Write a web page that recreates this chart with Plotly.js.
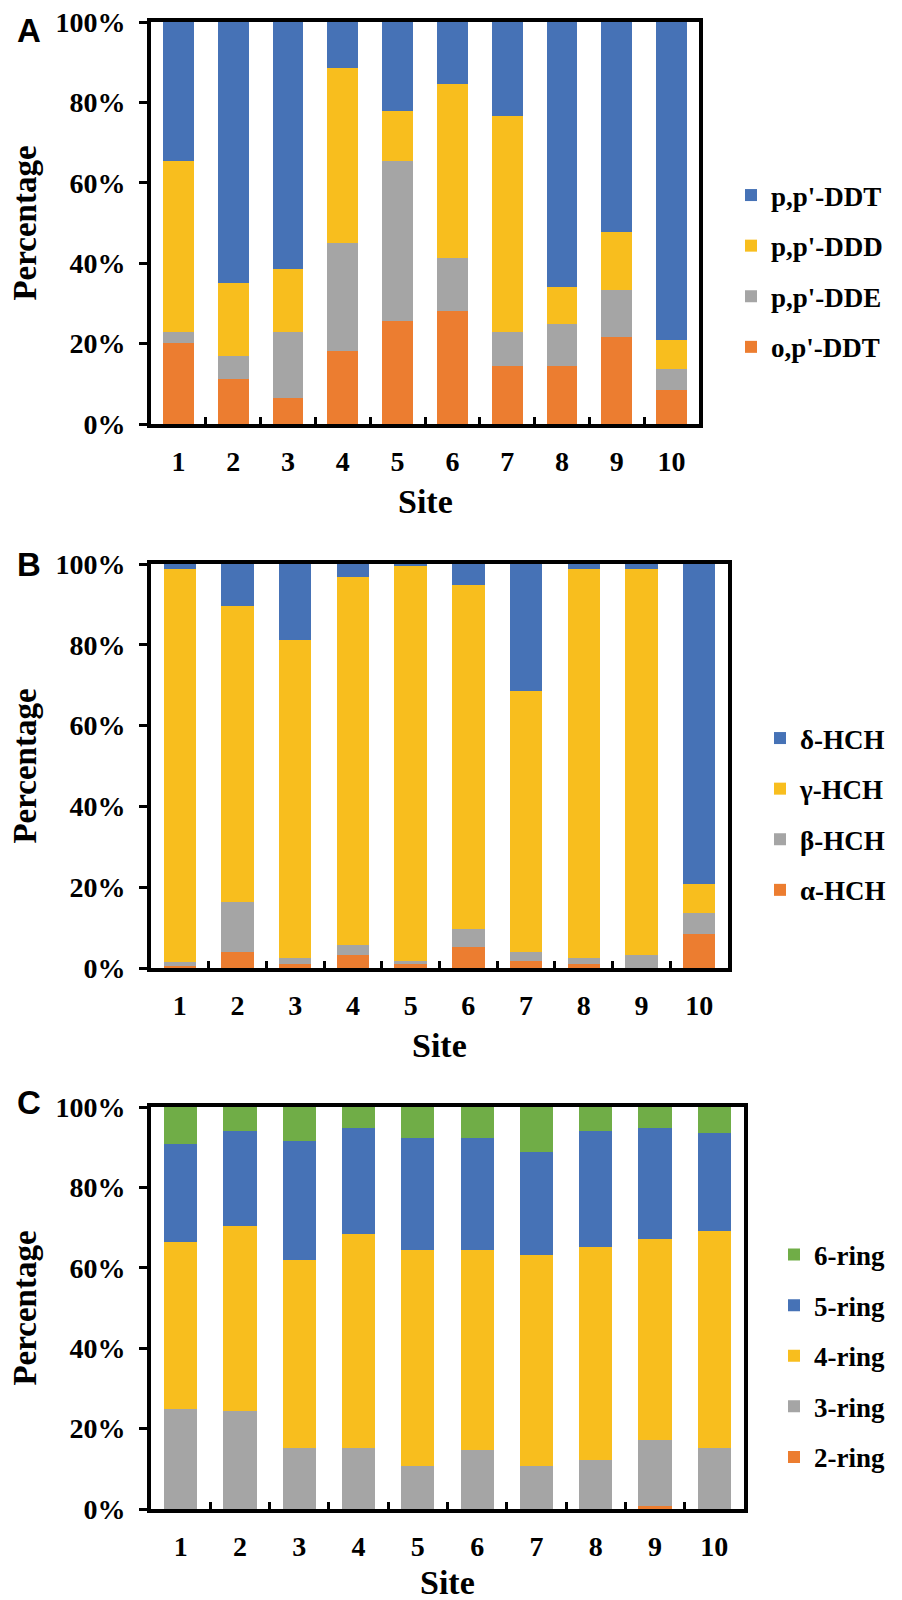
<!DOCTYPE html>
<html>
<head>
<meta charset="utf-8">
<script src="https://cdn.plot.ly/plotly-3.0.1.min.js"></script>
<style>body{margin:0;background:#fff}</style>
</head>
<body>
<div id="chart" style="width:902px;height:1600px"></div>
<script>
// ---------- data ----------
const sites = ['1','2','3','4','5','6','7','8','9','10'];

// Panel A (DDTs), fractions of total
const opDDT = [0.202, 0.111, 0.065, 0.182, 0.255, 0.281, 0.144, 0.144, 0.216, 0.085];
const ppDDE = [0.027, 0.059, 0.164, 0.269, 0.399, 0.131, 0.085, 0.104, 0.117, 0.051];
const ppDDD = [0.426, 0.182, 0.157, 0.434, 0.125, 0.433, 0.536, 0.092, 0.145, 0.072];
const ppDDT = [0.345, 0.648, 0.614, 0.115, 0.221, 0.155, 0.235, 0.660, 0.522, 0.792];

// Panel B (HCHs)
const aHCH = [0.006, 0.039, 0.011, 0.031, 0.009, 0.051, 0.018, 0.010, 0.000, 0.085];
const bHCH = [0.010, 0.124, 0.013, 0.026, 0.008, 0.046, 0.021, 0.014, 0.033, 0.051];
const gHCH = [0.971, 0.734, 0.787, 0.912, 0.978, 0.852, 0.647, 0.963, 0.954, 0.072];
const dHCH = [0.013, 0.103, 0.189, 0.031, 0.005, 0.051, 0.314, 0.013, 0.013, 0.792];

// Panel C (PAH rings)
const ring2 = [0.000, 0.000, 0.000, 0.000, 0.000, 0.000, 0.000, 0.000, 0.007, 0.000];
const ring3 = [0.250, 0.244, 0.152, 0.152, 0.106, 0.146, 0.106, 0.121, 0.165, 0.152];
const ring4 = [0.414, 0.460, 0.467, 0.532, 0.539, 0.499, 0.527, 0.531, 0.499, 0.539];
const ring5 = [0.245, 0.237, 0.296, 0.264, 0.277, 0.277, 0.256, 0.289, 0.277, 0.244];
const ring6 = [0.091, 0.059, 0.085, 0.052, 0.078, 0.078, 0.111, 0.059, 0.052, 0.065];

const panelLetters = ['A', 'B', 'C'];
const xTitle = 'Site';
const yTitle = 'Percentage';

// ---------- styles ----------
const C_BLUE = '#4672B6', C_YELLOW = '#F8BE1E', C_GRAY = '#A5A5A5', C_ORANGE = '#EC7D30', C_GREEN = '#70AD47';
const SERIF = 'Liberation Serif, Times New Roman, serif';
const SANS = 'Liberation Sans, Arial, sans-serif';

// rank: legend shows the top stack segment first
function bar(name, y, color, n, leg, rank) {
  return {
    type: 'bar', name: name, x: sites, y: y,
    marker: {color: color, line: {width: 0}},
    xaxis: 'x' + (n === 1 ? '' : n), yaxis: 'y' + (n === 1 ? '' : n),
    legend: leg, legendgroup: leg + name, legendrank: rank,
    hovertemplate: name + ': %{y:.1%}<extra></extra>'
  };
}

const data = [
  bar("o,p'-DDT", opDDT, C_ORANGE, 1, 'legend', 4),
  bar("p,p'-DDE", ppDDE, C_GRAY, 1, 'legend', 3),
  bar("p,p'-DDD", ppDDD, C_YELLOW, 1, 'legend', 2),
  bar("p,p'-DDT", ppDDT, C_BLUE, 1, 'legend', 1),
  bar('α-HCH', aHCH, C_ORANGE, 2, 'legend2', 4),
  bar('β-HCH', bHCH, C_GRAY, 2, 'legend2', 3),
  bar('γ-HCH', gHCH, C_YELLOW, 2, 'legend2', 2),
  bar('δ-HCH', dHCH, C_BLUE, 2, 'legend2', 1),
  bar('2-ring', ring2, C_ORANGE, 3, 'legend3', 5),
  bar('3-ring', ring3, C_GRAY, 3, 'legend3', 4),
  bar('4-ring', ring4, C_YELLOW, 3, 'legend3', 3),
  bar('5-ring', ring5, C_BLUE, 3, 'legend3', 2),
  bar('6-ring', ring6, C_GREEN, 3, 'legend3', 1)
];

const W = 902, H = 1600;
const tickFont = {family: SERIF, size: 28, color: '#000', weight: 'bold'};

function xax(domain, anchor) {
  return {
    domain: domain, anchor: anchor, type: 'category',
    showline: true, linecolor: '#000', linewidth: 4, mirror: true,
    ticks: 'inside', tickson: 'boundaries', ticklen: 7, tickwidth: 3, tickcolor: '#000',
    showgrid: false, zeroline: false, automargin: false,
    tickfont: tickFont, ticklabelstandoff: 9
  };
}
function yax(domain, anchor) {
  return {
    domain: domain, anchor: anchor, range: [0, 1], dtick: 0.2, tick0: 0, tickformat: '.0%',
    showline: true, linecolor: '#000', linewidth: 4, mirror: true,
    ticks: 'outside', ticklen: 8, tickwidth: 3, tickcolor: '#000',
    showgrid: false, zeroline: false, automargin: false,
    tickfont: tickFont, ticklabelstandoff: 8,
    title: {text: yTitle, font: {family: SERIF, size: 33, color: '#000', weight: 'bold'}, standoff: 10}
  };
}
function legendAt(xpx, ypx) {
  return {
    x: xpx / W, y: 1 - ypx / H, xanchor: 'left', yanchor: 'middle',
    traceorder: 'grouped', tracegroupgap: 12.5, bgcolor: 'rgba(0,0,0,0)',
    font: {family: SERIF, size: 27, color: '#000', weight: 'bold'}
  };
}

const plots = [
  {x0: 151, x1: 699, yTop: 22, yBot: 424, letterY: 30, siteY: 502},
  {x0: 151, x1: 728, yTop: 564, yBot: 968, letterY: 564, siteY: 1045},
  {x0: 151, x1: 744, yTop: 1107, yBot: 1509, letterY: 1102, siteY: 1582}
];

const annotations = [];
plots.forEach((p, i) => {
  annotations.push({
    text: panelLetters[i], x: 29 / W, y: 1 - p.letterY / H,
    xref: 'paper', yref: 'paper', xanchor: 'center', yanchor: 'middle', showarrow: false,
    font: {family: SANS, size: 33, color: '#000', weight: 'bold'}
  });
  annotations.push({
    text: xTitle, x: (p.x0 + p.x1) / 2 / W, y: 1 - p.siteY / H,
    xref: 'paper', yref: 'paper', xanchor: 'center', yanchor: 'middle', showarrow: false,
    font: {family: SERIF, size: 34, color: '#000', weight: 'bold'}
  });
});

const layout = {
  width: W, height: H,
  margin: {l: 0, r: 0, t: 0, b: 0},
  paper_bgcolor: '#fff', plot_bgcolor: '#fff',
  barmode: 'stack', bargap: 0.44,
  showlegend: true,
  xaxis: xax([plots[0].x0 / W, plots[0].x1 / W], 'y'),
  yaxis: yax([1 - plots[0].yBot / H, 1 - plots[0].yTop / H], 'x'),
  xaxis2: xax([plots[1].x0 / W, plots[1].x1 / W], 'y2'),
  yaxis2: yax([1 - plots[1].yBot / H, 1 - plots[1].yTop / H], 'x2'),
  xaxis3: xax([plots[2].x0 / W, plots[2].x1 / W], 'y3'),
  yaxis3: yax([1 - plots[2].yBot / H, 1 - plots[2].yTop / H], 'x3'),
  legend: legendAt(731, 271),
  legend2: legendAt(760, 814),
  legend3: legendAt(774, 1356),
  annotations: annotations
};

Plotly.newPlot('chart', data, layout, {displayModeBar: false, responsive: false});
</script>
</body>
</html>
